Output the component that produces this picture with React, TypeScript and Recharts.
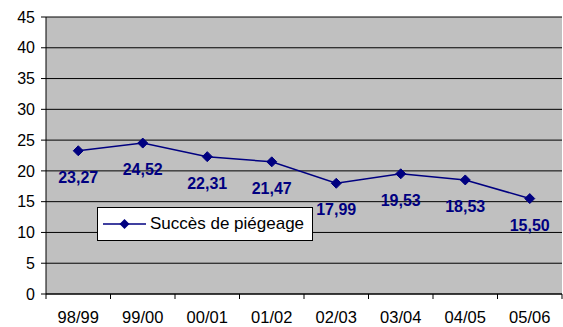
import { CartesianGrid, LabelList, Line, LineChart, XAxis, YAxis } from 'recharts';

const seasons = ['98/99', '99/00', '00/01', '01/02', '02/03', '03/04', '04/05', '05/06'];
const succes = [23.27, 24.52, 22.31, 21.47, 17.99, 19.53, 18.53, 15.5];
const yTicks = [0, 5, 10, 15, 20, 25, 30, 35, 40, 45];

const seriesName = 'Succès de piégeage';
const navy = '#000080';
const font = '"Liberation Sans", Arial, sans-serif';

const data = seasons.map((s, i) => ({ season: s, value: succes[i] }));

const halfBand = 32.25;

function Diamond({ cx, cy }: any) {
  if (cx == null || cy == null) return null;
  const r = 5;
  return <path d={`M${cx},${cy - r}L${cx + r},${cy}L${cx},${cy + r}L${cx - r},${cy}Z`} fill={navy} stroke={navy} />;
}

function XTick({ x, y, payload, index }: any) {
  const axisY = y - 8;
  return (
    <g>
      <line x1={x - halfBand} x2={x - halfBand} y1={axisY} y2={axisY + 5} stroke="#000" />
      {index === seasons.length - 1 && (
        <line x1={x + halfBand} x2={x + halfBand} y1={axisY} y2={axisY + 5} stroke="#000" />
      )}
      <text x={x} y={y + 15} textAnchor="middle" dominantBaseline="central" fontSize={16.5} fill="#000" fontFamily={font}>
        {payload.value}
      </text>
    </g>
  );
}

function ValueLabel({ x, y, value }: any) {
  return (
    <text x={x} y={y + 26.5} textAnchor="middle" dominantBaseline="central" fontSize={16} fontWeight="bold" fill={navy} fontFamily={font}>
      {Number(value).toFixed(2).replace('.', ',')}
    </text>
  );
}

export default function App() {
  return (
    <div style={{ position: 'absolute', left: 0, top: 0, width: 563, height: 327, fontFamily: font, background: '#fff' }}>
      <LineChart width={563} height={327} data={data} margin={{ top: 17, right: 1, left: 0, bottom: 0 }}>
        <CartesianGrid vertical={false} stroke="#000" fill="#C0C0C0" fillOpacity={1} />
        <XAxis
          dataKey="season"
          height={33}
          stroke="#000"
          tickLine={false}
          interval={0}
          padding={{ left: halfBand, right: halfBand }}
          tick={<XTick />}
        />
        <YAxis
          domain={[0, 45]}
          ticks={yTicks}
          width={46}
          stroke="#000"
          tickSize={5}
          tickMargin={6}
          tick={{ fontSize: 16, fill: '#000', fontFamily: font }}
          interval={0}
        />
        <Line
          dataKey="value"
          name={seriesName}
          stroke={navy}
          strokeWidth={1.5}
          dot={<Diamond />}
          activeDot={false}
          isAnimationActive={false}
        >
          <LabelList dataKey="value" content={<ValueLabel />} />
        </Line>
      </LineChart>
      <div
        style={{
          position: 'absolute',
          left: 97,
          top: 207,
          width: 214,
          height: 32,
          background: '#fff',
          border: '1px solid #000',
          display: 'flex',
          alignItems: 'center',
        }}
      >
        <svg width={50} height={32}>
          <line x1={5} x2={48} y1={16} y2={16} stroke={navy} strokeWidth={1.5} />
          <path d="M26.5,11L31.5,16L26.5,21L21.5,16Z" fill={navy} />
        </svg>
        <span style={{ fontSize: 17, color: '#000', marginLeft: 2, whiteSpace: 'nowrap' }}>{seriesName}</span>
      </div>
    </div>
  );
}
